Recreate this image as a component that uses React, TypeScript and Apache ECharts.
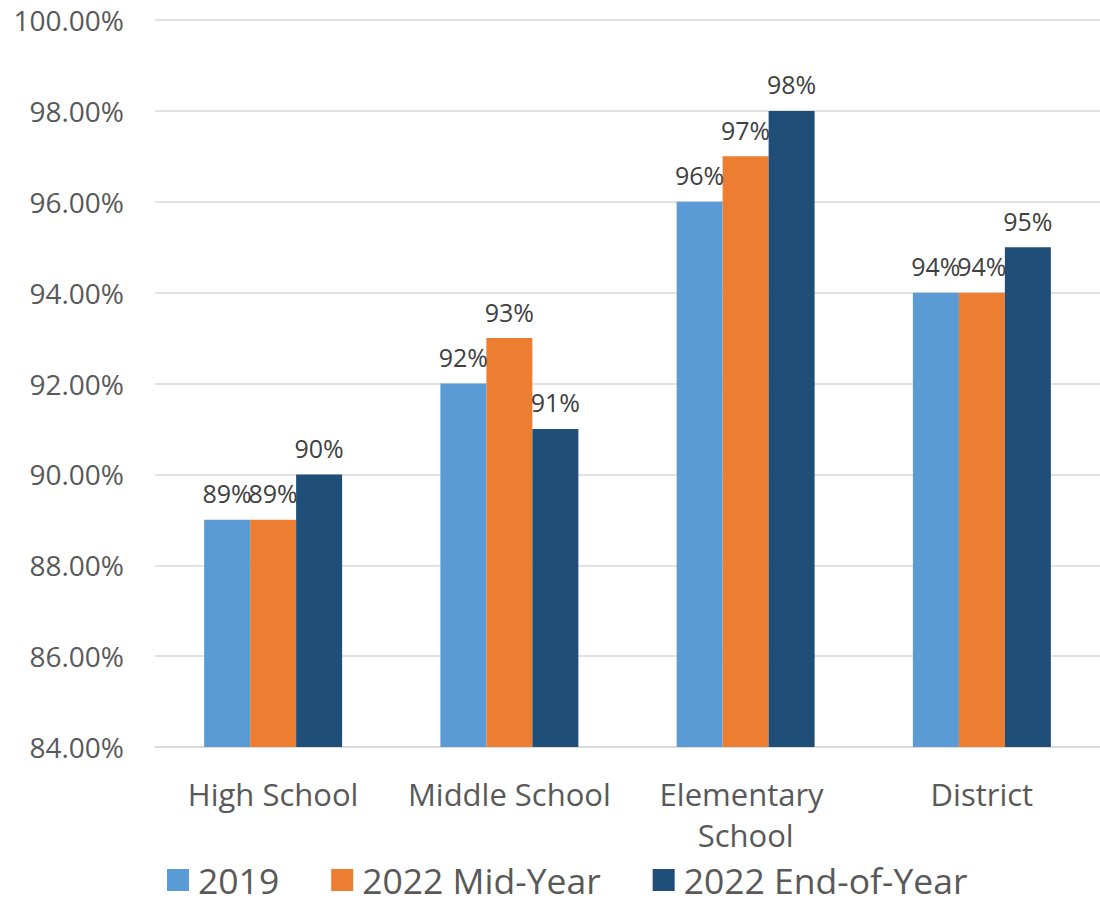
import React, { useEffect, useRef } from "react";
import * as echarts from "echarts";

const categories = ["High School", "Middle School", "Elementary School", "District"];
const seriesNames = ["2019", "2022 Mid-Year", "2022 End-of-Year"];
const values2019 = [89, 92, 96, 94];
const valuesMid = [89, 93, 97, 94];
const valuesEnd = [90, 91, 98, 95];
const colors = ["#5B9BD5", "#ED7D31", "#1F4E79"];

const FONT = "'Open Sans', 'Noto Sans', sans-serif";

export default function App() {
  const ref = useRef<HTMLDivElement>(null);
  useEffect(() => {
    if (!ref.current) return;
    const chart = echarts.init(ref.current, null, { renderer: "svg" });
    const data = [values2019, valuesMid, valuesEnd];
    chart.setOption({
      animation: false,
      textStyle: { fontFamily: FONT },
      grid: { left: 155, right: 0, top: 20, bottom: 176, containLabel: false },
      legend: {
        left: 167,
        top: 862,
        padding: 0,
        itemWidth: 22,
        itemHeight: 22,
        itemGap: 52,
        icon: "rect",
        textStyle: {
          fontSize: 35.5,
          lineHeight: 30,
          color: "#595959",
          fontFamily: FONT,
          padding: [0, 0, 0, 4],
        },
        data: seriesNames,
      },
      xAxis: {
        type: "category",
        data: categories,
        axisLine: { show: true, lineStyle: { color: "#D9D9D9", width: 1.5 } },
        axisTick: { show: false },
        axisLabel: {
          fontSize: 31,
          color: "#595959",
          margin: 26,
          lineHeight: 41,
          width: 225,
          overflow: "break",
          interval: 0,
        },
      },
      yAxis: {
        type: "value",
        min: 84,
        max: 100,
        interval: 2,
        axisLine: { show: false },
        axisTick: { show: false },
        splitLine: { lineStyle: { color: "#D9D9D9", width: 1.5 } },
        axisLabel: {
          fontSize: 28,
          color: "#595959",
          margin: 31,
          formatter: (v: number) => v.toFixed(2) + "%",
        },
      },
      series: seriesNames.map((name, i) => ({
        name,
        type: "bar",
        data: data[i],
        barGap: "0%",
        barCategoryGap: "41.6%",
        itemStyle: { color: colors[i] },
        label: {
          show: true,
          position: "top",
          distance: 14,
          fontSize: 25,
          color: "#404040",
          formatter: (p: any) => p.value + "%",
        },
      })),
    });
    return () => chart.dispose();
  }, []);
  return (
    <div
      ref={ref}
      style={{ position: "absolute", left: 0, top: 0, width: 1100, height: 923, background: "#fff" }}
    />
  );
}
